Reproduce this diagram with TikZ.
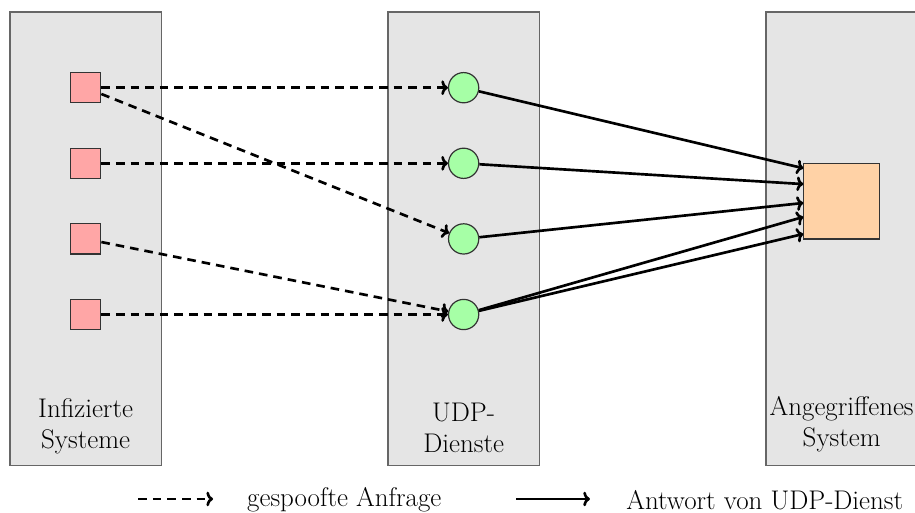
\documentclass[tikz,border=0pt]{standalone}
\usetikzlibrary{arrows.meta}
\begin{document}
\begin{tikzpicture}[
  every node/.style={font=\fontsize{20.3}{23.7}\selectfont},
  column/.style={draw=black!60, line width=1pt, fill=black!10, minimum width=4cm, minimum height=12cm, inner sep=0pt, outer sep=0pt},
  host/.style={draw=black!80, line width=0.9pt, fill=red!35, minimum size=0.8cm, inner sep=0pt},
  service/.style={circle, draw=black!80, line width=0.9pt, fill=green!35, minimum size=0.8cm, inner sep=0pt},
  victim/.style={draw=black!80, line width=0.9pt, fill=orange!35, minimum size=2cm, inner sep=0pt},
  request/.style={line width=2pt, dash pattern=on 6.5pt off 4.5pt, -{To[length=5pt,width=11pt]}},
  reply/.style={line width=2pt, -{To[length=5pt,width=11pt]}},
  label/.style={align=center}
]
\useasboundingbox (-0.265,-1.24) rectangle (23.94,12.32);
\clip (-0.265,-1.24) rectangle (23.94,12.32);

% the three columns
\node[column] (colA) at (2,6) {};
\node[column] (colB) at (12,6) {};
\node[column] (colC) at (22,6) {};

\node[label] (labA) at (2,1.05) {Infizierte\\Systeme};
\node[label] (labB) at (12,1.0) {UDP-\\Dienste};
\node[label] (labC) at (22,1.1) {Angegriffenes\\System};

% infected hosts
\node[host] (h1) at (2,10) {};
\node[host] (h2) at (2,8) {};
\node[host] (h3) at (2,6) {};
\node[host] (h4) at (2,4) {};

% UDP services
\node[service] (s1) at (12,10) {};
\node[service] (s2) at (12,8) {};
\node[service] (s3) at (12,6) {};
\node[service] (s4) at (12,4) {};

% attacked system
\node[victim] (v) at (22,7) {};
\coordinate (v1) at ([yshift=0.87cm]v.west);
\coordinate (v2) at ([yshift=0.45cm]v.west);
\coordinate (v3) at ([yshift=-0.05cm]v.west);
\coordinate (v4) at ([yshift=-0.42cm]v.west);
\coordinate (v5) at ([yshift=-0.87cm]v.west);

% spoofed requests
\draw[request] (h1) -- (s1);
\draw[request] (h1) -- (s3);
\draw[request] (h2) -- (s2);
\draw[request] (h3) -- (s4);
\draw[request] (h4) -- (s4);

% replies
\draw[reply] (s1) -- (v1);
\draw[reply] (s2) -- (v2);
\draw[reply] (s3) -- (v3);
\draw[reply] (s4) -- (v4);
\draw[reply] (s4) -- (v5);

% legend
\coordinate (la) at (3.39,-0.88);
\coordinate (lb) at (5.37,-0.88);
\coordinate (lc) at (13.39,-0.88);
\coordinate (ld) at (15.34,-0.88);
\draw[request] (la) -- (lb);
\draw[reply] (lc) -- (ld);
\node[anchor=west] (leg1) at (6.15,-0.91) {gespoofte Anfrage};
\node[anchor=west] (leg2) at (16.18,-0.91) {Antwort von UDP-Dienst};
\end{tikzpicture}
\end{document}
